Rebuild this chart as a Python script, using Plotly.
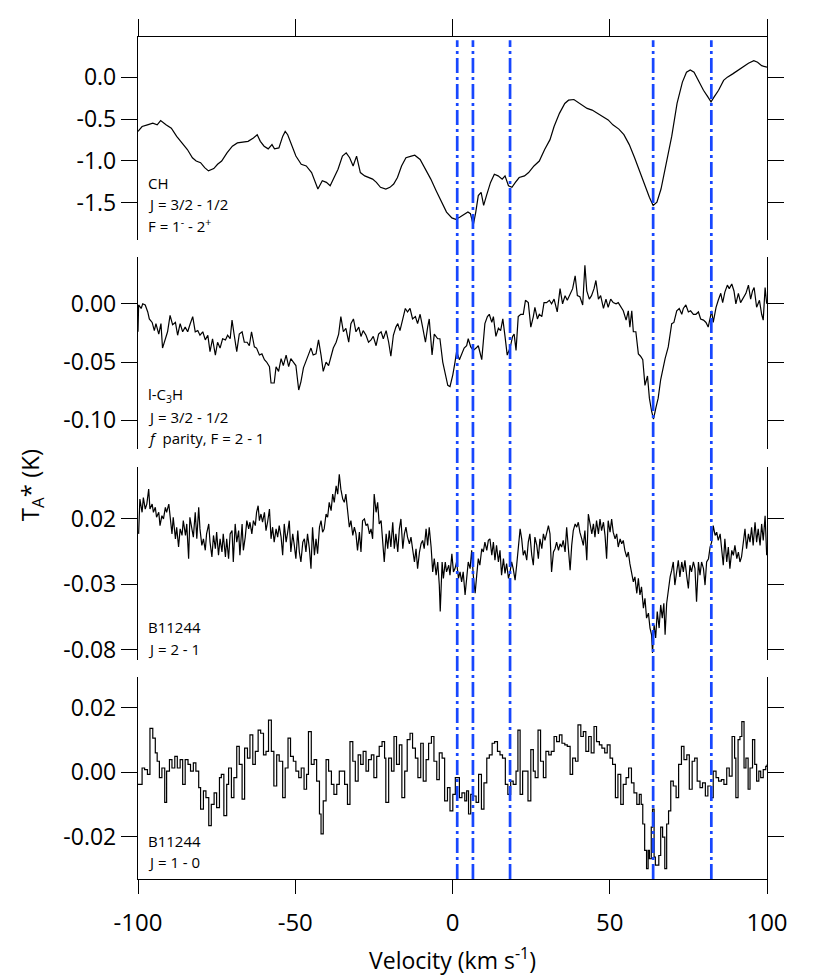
import plotly.graph_objects as go

# ---------------- data (velocity km/s, T_A* K) ----------------
CH = [(-100.0,-0.648),(-98.7,-0.589),(-97.0,-0.569),(-95.3,-0.550),(-93.9,-0.569),(-92.8,-0.518),(-91.1,-0.569),(-89.4,-0.609),(-87.7,-0.707),(-86.0,-0.785),
(-84.3,-0.864),(-82.7,-0.962),(-81.5,-1.001),(-80.1,-1.021),(-78.8,-1.080),(-77.6,-1.119),(-75.9,-1.091),(-74.7,-1.040),(-73.4,-1.001),(-71.7,-0.903),
(-70.0,-0.824),(-68.4,-0.785),(-66.7,-0.777),(-65.0,-0.766),(-63.3,-0.726),(-62.1,-0.687),(-61.1,-0.766),(-59.9,-0.824),(-58.6,-0.856),(-57.4,-0.805),
(-56.6,-0.856),(-55.2,-0.844),(-54.0,-0.707),(-53.2,-0.648),(-52.4,-0.687),(-51.2,-0.805),(-49.8,-0.942),(-48.1,-1.040),(-46.5,-1.060),(-44.8,-1.139),
(-43.4,-1.296),(-42.8,-1.335),(-41.4,-1.237),(-40.1,-1.256),(-38.9,-1.296),(-37.7,-1.198),(-36.4,-1.099),(-35.0,-0.942),(-33.8,-0.903),(-32.7,-0.962),
(-31.6,-1.060),(-30.5,-0.942),(-29.3,-1.139),(-27.9,-1.178),(-26.6,-1.198),(-25.4,-1.217),(-24.2,-1.256),(-22.9,-1.315),(-21.2,-1.335),(-19.9,-1.315),
(-18.7,-1.276),(-17.5,-1.198),(-16.2,-1.060),(-14.8,-0.962),(-13.1,-0.942),(-12.0,-0.931),(-10.3,-0.982),(-8.6,-1.099),(-6.9,-1.217),(-5.2,-1.355),
(-3.5,-1.492),(-1.9,-1.610),(-0.2,-1.680),(1.0,-1.696),(2.4,-1.669),(3.7,-1.641),(4.9,-1.610),(5.7,-1.629),(6.6,-1.767),(7.4,-1.610),
(8.2,-1.413),(9.1,-1.374),(9.9,-1.531),(10.8,-1.413),(12.1,-1.256),(13.3,-1.158),(14.5,-1.178),(15.8,-1.217),(16.7,-1.178),(17.8,-1.296),
(18.9,-1.315),(20.0,-1.256),(21.2,-1.198),(22.9,-1.178),(24.2,-1.139),(25.9,-1.060),(27.6,-1.001),(29.3,-0.864),(31.0,-0.746),(32.3,-0.589),
(34.0,-0.432),(35.7,-0.314),(36.9,-0.275),(38.6,-0.267),(39.7,-0.294),(41.1,-0.334),(42.8,-0.373),(44.4,-0.393),(46.1,-0.432),(47.8,-0.471),
(49.5,-0.510),(51.0,-0.569),(52.9,-0.620),(54.5,-0.687),(56.2,-0.805),(57.9,-0.962),(59.6,-1.139),(61.3,-1.315),(62.6,-1.433),(63.8,-1.531),
(65.0,-1.492),(66.3,-1.335),(68.0,-1.021),(69.7,-0.707),(71.4,-0.314),(73.1,-0.059),(74.4,0.059),(75.6,0.086),(76.8,0.059),(78.1,-0.039),
(79.8,-0.157),(81.2,-0.236),(82.2,-0.294),(83.2,-0.236),(84.6,-0.157),(86.2,-0.039),(87.4,0.000),(89.1,0.039),(90.7,0.079),(92.4,0.126),
(94.1,0.165),(95.8,0.196),(97.0,0.177),(98.3,0.137),(100.0,0.118)]

C3H = [(-100.0,-0.024),(-99.8,-0.001),(-99.0,-0.004),(-98.5,0.000),(-97.7,-0.001),(-96.9,-0.007),(-96.4,-0.013),(-95.5,-0.016),(-94.8,-0.023),(-94.3,-0.017),
(-93.4,-0.026),(-92.7,-0.017),(-92.2,-0.038),(-91.3,-0.030),(-90.6,-0.024),(-89.8,-0.010),(-89.0,-0.018),(-88.1,-0.016),(-87.4,-0.027),(-86.6,-0.017),
(-85.8,-0.024),(-85.0,-0.020),(-84.2,-0.024),(-83.5,-0.018),(-82.6,-0.011),(-81.8,-0.024),(-81.0,-0.023),(-80.3,-0.027),(-79.4,-0.024),(-78.6,-0.031),
(-77.8,-0.027),(-77.1,-0.041),(-76.3,-0.030),(-75.4,-0.044),(-74.7,-0.033),(-73.9,-0.038),(-73.1,-0.030),(-72.2,-0.031),(-71.5,-0.027),(-70.7,-0.030),
(-70.1,-0.014),(-69.4,-0.027),(-68.6,-0.041),(-67.8,-0.026),(-66.9,-0.024),(-66.2,-0.033),(-65.3,-0.033),(-64.6,-0.036),(-63.9,-0.024),(-63.0,-0.037),
(-62.3,-0.038),(-61.4,-0.044),(-60.6,-0.043),(-59.8,-0.048),(-59.1,-0.050),(-58.2,-0.054),(-57.7,-0.068),(-56.7,-0.068),(-56.1,-0.054),(-55.3,-0.058),
(-54.5,-0.047),(-53.8,-0.053),(-52.9,-0.044),(-52.1,-0.054),(-51.4,-0.047),(-50.6,-0.050),(-49.8,-0.053),(-48.9,-0.074),(-48.2,-0.067),(-47.4,-0.055),
(-46.6,-0.050),(-45.7,-0.043),(-45.0,-0.038),(-44.3,-0.044),(-43.4,-0.043),(-42.6,-0.031),(-41.8,-0.044),(-41.1,-0.058),(-40.2,-0.050),(-39.4,-0.053),
(-38.6,-0.045),(-37.9,-0.038),(-37.0,-0.033),(-36.2,-0.026),(-35.5,-0.011),(-34.7,-0.024),(-33.9,-0.021),(-33.0,-0.033),(-32.3,-0.017),(-31.5,-0.013),
(-30.7,-0.024),(-29.8,-0.020),(-29.1,-0.028),(-28.4,-0.023),(-27.5,-0.027),(-26.7,-0.033),(-25.9,-0.031),(-25.2,-0.028),(-24.3,-0.036),(-23.5,-0.026),
(-22.7,-0.024),(-22.0,-0.030),(-21.1,-0.023),(-20.3,-0.033),(-19.6,-0.045),(-18.8,-0.027),(-18.0,-0.020),(-17.4,-0.017),(-16.7,-0.023),(-15.8,-0.014),
(-15.0,-0.004),(-14.3,-0.007),(-13.5,-0.004),(-12.7,-0.013),(-11.8,-0.011),(-11.1,-0.017),(-10.3,-0.009),(-9.5,-0.020),(-8.6,-0.033),(-7.9,-0.020),
(-7.4,-0.013),(-6.5,-0.044),(-5.8,-0.026),(-4.7,-0.030),(-4.0,-0.030),(-3.1,-0.050),(-2.3,-0.061),(-1.5,-0.070),(-0.8,-0.071),(0.1,-0.061),
(0.8,-0.050),(1.3,-0.041),(2.2,-0.048),(2.9,-0.043),(3.7,-0.038),(4.5,-0.036),(5.0,-0.030),(5.8,-0.037),(6.6,-0.040),(7.5,-0.038),
(8.2,-0.036),(9.3,-0.048),(9.8,-0.031),(10.3,-0.017),(11.1,-0.011),(11.7,-0.009),(12.5,-0.016),(13.0,-0.011),(13.8,-0.028),(14.6,-0.021),
(15.3,-0.023),(16.0,-0.013),(16.7,-0.028),(17.4,-0.044),(18.3,-0.038),(19.1,-0.028),(19.6,-0.026),(20.2,-0.040),(20.9,-0.011),(21.7,-0.009),
(22.5,-0.009),(23.2,0.003),(24.1,0.001),(24.9,-0.020),(25.7,-0.011),(26.2,-0.003),(27.0,-0.013),(27.6,-0.009),(28.4,-0.011),(29.1,0.001),
(29.9,0.001),(30.8,0.003),(31.5,0.000),(32.3,0.004),(33.3,-0.007),(34.2,0.013),(35.0,0.000),(35.8,0.007),(36.5,0.003),(37.4,0.009),
(38.2,0.013),(39.0,0.024),(39.7,0.007),(40.5,0.006),(41.4,-0.001),(42.1,0.033),(42.7,0.011),(43.5,0.004),(44.2,0.007),(45.0,0.013),
(45.6,0.020),(46.4,0.004),(47.1,0.007),(48.0,-0.004),(48.8,0.004),(49.5,-0.003),(50.3,0.004),(51.1,0.001),(52.0,0.000),(52.7,0.001),
(53.5,-0.003),(54.3,-0.006),(55.2,-0.014),(55.9,-0.006),(56.4,-0.020),(57.0,-0.006),(57.5,-0.024),(58.3,-0.024),(59.1,-0.043),(59.8,-0.045),
(60.5,-0.048),(61.2,-0.070),(62.0,-0.062),(62.6,-0.081),(63.3,-0.092),(63.9,-0.099),(64.7,-0.089),(65.4,-0.081),(66.2,-0.065),(67.0,-0.054),
(67.6,-0.047),(68.6,-0.037),(69.2,-0.024),(69.7,-0.017),(70.4,-0.016),(71.3,-0.006),(72.1,-0.004),(72.9,-0.009),(73.4,-0.004),(74.2,-0.001),
(75.0,-0.007),(75.7,-0.006),(76.6,-0.009),(77.4,-0.009),(78.2,-0.007),(78.9,-0.013),(79.8,-0.014),(80.6,-0.016),(81.3,-0.020),(81.9,-0.011),
(82.4,-0.006),(82.9,-0.016),(83.8,-0.003),(84.5,0.003),(85.3,0.009),(85.9,0.001),(86.6,0.010),(87.4,0.016),(88.0,0.013),(88.8,0.017),
(89.5,0.011),(90.1,0.000),(90.9,0.009),(91.6,0.001),(92.5,0.006),(93.3,0.009),(94.1,0.016),(94.8,0.004),(95.4,0.011),(95.9,0.014),
(96.7,-0.003),(97.6,0.003),(98.3,-0.009),(98.8,-0.014),(99.4,0.014),(99.9,0.000)]

B11244_J21 = [(-99.8,0.0086),(-99.4,0.0352),(-98.7,0.0251),(-98.3,0.0364),(-97.7,0.0276),(-97.2,0.0314),(-96.6,0.0428),(-96.2,0.0276),(-95.5,0.0314),(-95.1,0.0251),
(-94.5,0.0289),(-94.1,0.0213),(-93.4,0.0251),(-93.0,0.0149),(-92.4,0.0225),(-91.9,0.0200),(-91.3,0.0289),(-90.9,0.0251),(-90.2,0.0314),(-89.8,0.0200),
(-89.2,0.0086),(-88.8,0.0213),(-88.1,0.0048),(-87.7,0.0137),(-87.1,-0.0015),(-86.6,0.0124),(-86.0,0.0074),(-85.6,0.0187),(-84.9,0.0074),(-84.5,0.0162),
(-83.9,-0.0104),(-83.5,0.0213),(-82.8,0.0099),(-82.4,0.0061),(-81.8,0.0251),(-81.3,0.0048),(-80.7,0.0289),(-80.3,0.0124),(-79.7,-0.0002),(-79.2,0.0048),
(-78.6,-0.0040),(-78.2,0.0086),(-77.5,0.0162),(-77.1,0.0023),(-76.5,-0.0091),(-76.0,0.0074),(-75.4,-0.0028),(-75.0,0.0099),(-74.4,-0.0078),(-73.9,0.0048),
(-73.3,-0.0053),(-72.9,0.0086),(-72.2,-0.0091),(-71.8,0.0048),(-71.2,-0.0104),(-70.7,0.0086),(-70.1,0.0111),(-69.7,-0.0129),(-69.1,0.0162),(-68.6,0.0023),
(-68.0,0.0111),(-67.6,-0.0078),(-66.9,0.0162),(-66.5,-0.0040),(-65.9,0.0061),(-65.4,0.0187),(-64.8,0.0124),(-64.4,0.0175),(-63.8,0.0086),(-63.3,0.0187),
(-62.7,0.0149),(-62.3,0.0251),(-61.8,0.0301),(-61.4,0.0187),(-60.9,0.0238),(-60.4,0.0175),(-59.8,0.0251),(-59.3,0.0111),(-58.8,0.0175),(-58.2,0.0276),
(-57.7,0.0048),(-57.2,0.0137),(-56.7,0.0023),(-56.1,0.0124),(-55.6,0.0061),(-55.1,0.0149),(-54.5,0.0061),(-54.0,-0.0078),(-53.5,0.0162),(-52.9,0.0023),
(-52.4,0.0099),(-51.9,0.0187),(-51.4,-0.0053),(-50.8,0.0086),(-50.3,-0.0002),(-49.8,-0.0104),(-49.2,0.0111),(-48.7,-0.0053),(-48.2,-0.0129),(-47.6,0.0023),
(-47.1,0.0048),(-46.6,-0.0053),(-46.1,0.0086),(-45.5,-0.0028),(-45.0,-0.0180),(-44.5,0.0137),(-43.9,-0.0078),(-43.4,0.0048),(-42.9,-0.0066),(-42.3,0.0137),
(-41.8,0.0187),(-41.3,0.0099),(-40.8,0.0124),(-40.2,0.0238),(-39.7,0.0213),(-39.2,0.0327),(-38.6,0.0263),(-38.1,0.0390),(-37.6,0.0327),(-37.0,0.0453),
(-36.5,0.0390),(-36.0,0.0542),(-35.5,0.0428),(-34.9,0.0352),(-34.4,0.0327),(-33.9,0.0390),(-33.3,0.0251),(-32.8,0.0137),(-32.3,0.0187),(-31.7,0.0074),
(-31.2,0.0137),(-30.7,0.0086),(-30.2,-0.0040),(-29.6,0.0099),(-29.1,-0.0053),(-28.6,0.0187),(-28.0,0.0200),(-27.5,0.0149),(-27.0,0.0162),(-26.4,0.0086),
(-25.9,0.0124),(-25.4,0.0048),(-24.9,0.0390),(-24.3,0.0251),(-23.8,0.0327),(-23.3,0.0162),(-22.7,0.0187),(-22.2,0.0023),(-21.7,-0.0129),(-21.1,0.0086),
(-20.6,-0.0028),(-20.1,0.0111),(-19.6,-0.0015),(-19.0,0.0175),(-18.5,-0.0028),(-18.0,0.0086),(-17.4,-0.0053),(-16.9,0.0124),(-16.4,0.0200),(-15.8,-0.0028),
(-15.3,0.0086),(-14.8,0.0137),(-14.3,0.0061),(-13.7,0.0010),(-13.2,0.0061),(-12.7,-0.0028),(-12.1,-0.0129),(-11.6,-0.0028),(-11.1,-0.0180),(-10.5,-0.0053),
(-10.0,0.0010),(-9.5,0.0036),(-9.0,-0.0028),(-8.4,0.0124),(-7.9,-0.0002),(-7.4,0.0137),(-6.8,-0.0015),(-6.3,-0.0205),(-5.8,-0.0104),(-5.2,-0.0230),
(-4.7,-0.0129),(-4.2,-0.0306),(-3.9,-0.0508),(-3.3,-0.0129),(-2.9,-0.0255),(-2.3,-0.0129),(-1.9,-0.0205),(-1.2,-0.0154),(-0.8,-0.0230),(-0.2,-0.0066),
(0.3,-0.0205),(0.8,-0.0180),(1.3,-0.0129),(1.9,-0.0255),(2.4,-0.0205),(2.9,-0.0281),(3.4,-0.0205),(4.0,-0.0382),(4.5,-0.0230),(5.0,-0.0129),
(5.6,-0.0180),(6.1,-0.0040),(6.6,-0.0230),(7.2,-0.0369),(7.7,-0.0230),(8.2,-0.0104),(8.7,-0.0154),(9.3,-0.0028),(9.8,-0.0053),(10.3,0.0023),
(10.9,-0.0040),(11.4,0.0036),(11.9,0.0048),(12.5,-0.0078),(13.0,0.0023),(13.5,-0.0116),(14.0,-0.0002),(14.6,-0.0129),(15.1,-0.0040),(15.6,-0.0230),
(16.2,-0.0104),(16.7,-0.0217),(17.2,-0.0142),(17.8,-0.0255),(18.3,-0.0205),(18.8,-0.0129),(19.3,-0.0180),(19.9,-0.0268),(20.4,-0.0154),(20.9,-0.0015),
(21.5,0.0124),(22.0,0.0048),(22.5,-0.0078),(23.0,-0.0040),(23.6,-0.0116),(24.1,0.0023),(24.6,0.0086),(25.2,-0.0078),(25.7,-0.0154),(26.2,0.0061),
(26.8,-0.0002),(27.3,-0.0104),(27.8,0.0048),(28.4,-0.0028),(28.9,0.0086),(29.4,0.0036),(29.9,0.0086),(30.5,0.0149),(31.0,0.0086),(31.5,-0.0205),
(32.1,-0.0053),(32.6,-0.0028),(33.1,0.0023),(33.7,-0.0040),(34.2,0.0010),(34.7,-0.0015),(35.2,0.0036),(35.8,-0.0053),(36.3,0.0137),(36.8,0.0010),
(37.4,-0.0192),(37.9,-0.0002),(38.4,0.0111),(39.0,0.0162),(39.5,0.0137),(40.0,0.0175),(40.5,0.0099),(41.1,0.0048),(41.6,-0.0002),(42.1,0.0111),
(42.7,-0.0116),(43.2,0.0238),(43.7,0.0175),(44.3,0.0086),(44.8,0.0162),(45.3,0.0061),(45.8,0.0187),(46.4,0.0086),(46.9,0.0200),(47.4,0.0111),
(48.0,0.0175),(48.5,0.0074),(49.0,-0.0104),(49.5,0.0187),(50.1,0.0099),(50.6,0.0200),(51.1,0.0099),(51.7,0.0048),(52.2,0.0086),(52.7,-0.0015),
(53.3,0.0048),(53.8,0.0010),(54.3,0.0036),(54.8,-0.0040),(55.4,-0.0091),(55.9,-0.0053),(56.4,-0.0142),(57.0,-0.0205),(57.5,-0.0281),(58.0,-0.0243),
(58.6,-0.0369),(59.1,-0.0255),(59.6,-0.0382),(60.1,-0.0319),(60.7,-0.0483),(61.2,-0.0407),(61.7,-0.0559),(62.3,-0.0521),(62.8,-0.0635),(63.3,-0.0686),
(63.6,-0.0825),(64.1,-0.0610),(64.6,-0.0711),(65.1,-0.0508),(65.7,-0.0635),(66.2,-0.0458),(66.7,-0.0559),(67.2,-0.0445),(67.6,-0.0686),(68.1,-0.0445),
(68.6,-0.0331),(69.2,-0.0243),(69.7,-0.0192),(70.2,-0.0129),(70.7,-0.0306),(71.3,-0.0205),(71.8,-0.0116),(72.3,-0.0243),(72.9,-0.0129),(73.4,-0.0205),
(73.9,-0.0116),(74.5,-0.0243),(75.0,-0.0331),(75.5,-0.0154),(76.0,-0.0205),(76.6,-0.0129),(77.1,-0.0180),(77.6,-0.0433),(78.2,-0.0129),(78.7,-0.0230),
(79.2,-0.0129),(79.8,-0.0180),(80.3,-0.0306),(80.8,-0.0129),(81.4,-0.0104),(81.9,-0.0015),(82.4,0.0023),(82.9,0.0149),(83.5,0.0074),(84.0,0.0099),
(84.5,0.0036),(85.1,0.0086),(85.6,-0.0028),(86.1,-0.0154),(86.6,0.0048),(87.2,-0.0129),(87.7,-0.0015),(88.2,-0.0180),(88.8,-0.0040),(89.3,-0.0078),
(89.8,-0.0002),(90.4,-0.0104),(90.9,-0.0053),(91.4,-0.0129),(91.9,-0.0091),(92.5,0.0023),(93.0,0.0124),(93.5,-0.0028),(94.1,0.0086),(94.6,0.0023),
(95.1,0.0137),(95.6,-0.0002),(96.2,0.0175),(96.7,0.0023),(97.2,0.0124),(97.8,-0.0002),(98.3,0.0162),(98.8,0.0036),(99.4,0.0225),(99.9,-0.0078)]

B11244_J10 = [(-100.0,-0.0038),(-99.6,-0.0038),(-98.7,0.0013),(-97.9,0.0008),(-97.0,-0.0007),(-96.2,0.0136),(-95.3,0.0106),(-94.5,0.0060),(-93.9,0.0034),(-93.2,-0.0017),
(-92.4,0.0013),(-91.5,-0.0094),(-90.9,0.0003),(-90.0,0.0039),(-89.2,0.0013),(-88.3,0.0049),(-87.5,0.0013),(-86.6,0.0039),(-85.8,-0.0038),(-85.0,0.0039),
(-84.1,0.0024),(-83.3,0.0003),(-82.4,0.0029),(-81.6,0.0003),(-80.7,-0.0048),(-80.1,-0.0115),(-79.2,-0.0058),(-78.4,-0.0079),(-77.5,-0.0166),(-76.7,-0.0100),
(-75.8,-0.0064),(-75.0,-0.0110),(-74.1,-0.0017),(-73.5,-0.0007),(-72.7,-0.0135),(-71.8,-0.0038),(-71.2,0.0013),(-70.3,-0.0079),(-69.5,-0.0017),(-68.6,0.0080),
(-67.8,0.0024),(-66.9,-0.0084),(-66.1,0.0075),(-65.2,0.0044),(-64.4,0.0116),(-63.5,0.0024),(-62.7,0.0065),(-61.8,0.0131),(-61.0,0.0121),(-60.1,0.0054),
(-59.3,0.0065),(-58.5,0.0162),(-57.6,0.0065),(-56.8,-0.0043),(-55.9,0.0054),(-55.1,0.0034),(-54.0,-0.0079),(-53.2,0.0013),(-52.3,0.0106),(-51.5,0.0049),
(-50.6,0.0034),(-49.8,0.0003),(-48.9,-0.0017),(-48.1,0.0013),(-47.2,-0.0053),(-46.4,-0.0007),(-45.8,0.0126),(-44.9,0.0024),(-44.0,0.0039),(-43.2,-0.0028),
(-42.3,-0.0130),(-41.8,-0.0192),(-41.1,-0.0089),(-40.2,0.0039),(-39.4,0.0003),(-38.5,-0.0038),(-37.7,-0.0069),(-36.8,-0.0038),(-36.0,0.0003),(-35.1,0.0003),
(-34.3,-0.0038),(-33.4,-0.0100),(-32.6,0.0095),(-31.7,0.0034),(-30.9,-0.0028),(-30.0,0.0054),(-29.2,0.0024),(-28.4,0.0065),(-27.5,0.0003),(-26.7,0.0039),
(-25.8,0.0054),(-25.0,-0.0017),(-24.1,0.0049),(-23.3,0.0080),(-22.4,0.0095),(-21.6,0.0044),(-21.2,-0.0094),(-20.3,0.0044),(-19.4,0.0003),(-18.6,0.0111),
(-17.8,0.0024),(-16.9,0.0085),(-16.1,-0.0079),(-15.2,0.0003),(-14.4,0.0101),(-13.5,0.0121),(-12.7,0.0075),(-11.8,0.0044),(-11.0,-0.0017),(-10.1,0.0090),
(-9.3,-0.0028),(-8.4,0.0039),(-7.6,0.0090),(-6.7,0.0111),(-5.9,0.0034),(-5.0,-0.0023),(-4.2,0.0060),(-3.3,0.0044),(-2.5,-0.0089),(-1.6,-0.0048),
(-0.8,-0.0120),(0.1,-0.0069),(0.9,-0.0017),(1.3,-0.0017),(2.2,-0.0079),(3.0,-0.0064),(3.9,-0.0089),(4.5,-0.0058),(5.1,-0.0130),(5.8,-0.0069),
(6.6,-0.0074),(7.5,-0.0094),(8.3,-0.0007),(9.2,-0.0115),(10.0,-0.0033),(10.9,0.0044),(11.7,0.0054),(12.6,0.0090),(13.4,0.0095),(14.3,0.0065),
(15.1,0.0054),(15.9,0.0044),(16.8,-0.0038),(17.6,-0.0069),(18.5,-0.0028),(19.3,-0.0038),(20.2,0.0003),(20.8,0.0131),(21.5,-0.0069),(22.3,0.0003),
(23.2,0.0003),(24.0,-0.0089),(24.9,0.0070),(25.7,0.0003),(26.3,-0.0017),(27.2,0.0131),(28.0,0.0034),(28.9,-0.0017),(29.7,0.0065),(30.6,0.0054),
(31.4,0.0065),(32.3,0.0111),(33.1,0.0095),(34.0,0.0116),(34.8,0.0090),(35.7,0.0085),(36.5,0.0080),(37.4,-0.0007),(38.2,0.0044),(39.1,0.0034),
(39.9,0.0147),(40.8,0.0111),(41.6,0.0126),(42.4,0.0065),(43.3,0.0111),(44.1,0.0060),(45.0,0.0142),(45.8,0.0095),(46.7,0.0085),(47.5,0.0075),
(48.4,0.0060),(49.2,0.0085),(50.1,0.0044),(50.9,0.0024),(51.8,-0.0079),(52.6,-0.0007),(53.5,-0.0100),(54.3,-0.0038),(55.2,-0.0017),(56.0,0.0013),
(56.9,-0.0033),(57.7,-0.0064),(58.6,-0.0100),(59.4,-0.0069),(60.0,-0.0100),(60.5,-0.0161),(61.1,-0.0243),(61.7,-0.0300),(62.2,-0.0243),(62.6,-0.0269),
(63.2,-0.0171),(63.6,-0.0115),(64.1,-0.0264),(64.5,-0.0289),(64.9,-0.0289),(65.6,-0.0259),(66.2,-0.0171),(66.8,-0.0202),(67.5,-0.0300),(68.1,-0.0161),
(68.7,-0.0120),(69.4,-0.0028),(70.2,-0.0043),(71.1,-0.0079),(71.9,0.0024),(72.8,0.0080),(73.6,0.0039),(74.5,0.0054),(75.3,-0.0053),(76.2,0.0034),
(77.0,0.0044),(77.8,-0.0028),(78.7,-0.0048),(79.5,-0.0033),(80.4,-0.0074),(81.2,-0.0043),(82.1,-0.0079),(82.9,0.0003),(83.8,-0.0017),(84.6,-0.0028),
(85.5,-0.0023),(86.3,-0.0038),(87.2,0.0013),(88.0,-0.0012),(88.9,0.0111),(89.7,0.0044),(90.1,-0.0079),(90.8,0.0101),(91.4,0.0111),(92.0,0.0157),
(92.7,0.0013),(93.3,0.0044),(94.0,-0.0053),(94.6,0.0013),(95.4,0.0101),(96.1,0.0024),(96.7,-0.0028),(97.4,0.0003),(98.0,-0.0017),(98.8,0.0008),
(99.6,0.0018),(100.0,0.0024)]

LINE_VELOCITIES = [1.5, 6.5, 18.3, 63.8, 82.3]

X_TICKS = [-100, -50, 0, 50, 100]
X_TICK_TEXT = ["-100", "-50", "0", "50", "100"]

CH_TICKS = [0.0, -0.5, -1.0, -1.5]
CH_TICK_TEXT = ["0.0", "-0.5", "-1.0", "-1.5"]
C3H_TICKS = [0.0, -0.05, -0.10]
C3H_TICK_TEXT = ["0.00", "-0.05", "-0.10"]
J21_TICKS = [0.02, -0.03, -0.08]
J21_TICK_TEXT = ["0.02", "-0.03", "-0.08"]
J10_TICKS = [0.02, 0.0, -0.02]
J10_TICK_TEXT = ["0.02", "0.00", "-0.02"]

LABELS = [
    ["CH", "J = 3/2 - 1/2", "F = 1<sup>-</sup> - 2<sup>+</sup>"],
    ["l-C<sub>3</sub>H", "J = 3/2 - 1/2", "<i>f</i>  parity, F = 2 - 1"],
    ["B11244", "J = 2 - 1"],
    ["B11244", "J = 1 - 0"],
]

# ---------------- layout helpers ----------------
# the page body has an 8 px margin, so the figure is drawn from (8, 8)
OFF = 8
WIN_W, WIN_H = 830, 977
W, H = WIN_W - OFF, WIN_H - OFF
PL, PR, PT, PB = 138, 767, 26, 879          # plot area in window pixels
ML, MR, MT, MB = PL - OFF, W + OFF - PR, PT - OFF, H + OFF - PB
PH = PB - PT

def py(p):
    return (PB - p) / PH

def px(p):
    return (p - PL) / (PR - PL)

FONT = "Open Sans, DejaVu Sans, sans-serif"

panels = [
    dict(data=CH, dom=[py(231.7), 1.0], rng=[-1.944, 0.479], tv=CH_TICKS, tt=CH_TICK_TEXT, shape="linear",
         label_y=[174, 195, 217]),
    dict(data=C3H, dom=[py(443), py(249.3)], rng=[-0.1243, 0.0398], tv=C3H_TICKS, tt=C3H_TICK_TEXT, shape="linear",
         label_y=[389, 411, 432]),
    dict(data=B11244_J21, dom=[py(656.7), py(461.7)], rng=[-0.0876, 0.0597], tv=J21_TICKS, tt=J21_TICK_TEXT, shape="linear",
         label_y=[624, 646]),
    dict(data=B11244_J10, dom=[0.0, py(674)], rng=[-0.0332, 0.0297], tv=J10_TICKS, tt=J10_TICK_TEXT, shape="hv",
         label_y=[840, 862]),
]

fig = go.Figure()
annotations = []
for i, p in enumerate(panels, start=1):
    sfx = "" if i == 1 else str(i)
    v = [d[0] for d in p["data"]]
    t = [d[1] for d in p["data"]]
    fig.add_trace(go.Scatter(x=v, y=t, mode="lines", xaxis="x" + sfx, yaxis="y" + sfx,
                             line=dict(color="black", width=1.2, shape=p["shape"]),
                             showlegend=False, hoverinfo="skip"))
    xa = dict(domain=[0, 1], range=[-100, 100], anchor="y" + sfx, showgrid=False, zeroline=False)
    if i == 1:
        xa.update(side="top", showline=True, linecolor="black", linewidth=1.3, ticks="outside",
                  ticklen=17, tickwidth=1.3, tickcolor="black", tickvals=X_TICKS, showticklabels=False)
    elif i == 4:
        xa.update(showline=True, linecolor="black", linewidth=1.3, ticks="outside", ticklen=14,
                  tickwidth=1.3, tickcolor="black", tickvals=X_TICKS, ticktext=X_TICK_TEXT,
                  tickfont=dict(family=FONT, size=24, color="black"), ticklabelstandoff=8)
    else:
        xa.update(showline=False, ticks="", showticklabels=False)
    ya = dict(domain=p["dom"], range=p["rng"], anchor="x" + sfx, showgrid=False, zeroline=False,
              showline=True, mirror="ticks", linecolor="black", linewidth=1.3, ticks="outside",
              ticklen=16, tickwidth=1.3, tickcolor="black", tickvals=p["tv"], ticktext=p["tt"],
              tickfont=dict(family=FONT, size=23, color="black"))
    fig.layout["xaxis" + sfx] = xa
    fig.layout["yaxis" + sfx] = ya
    for txt, yy in zip(LABELS[i - 1], p["label_y"]):
        annotations.append(dict(text=txt, x=px(146), y=py(yy), xref="paper", yref="paper",
                                xanchor="left", yanchor="middle", showarrow=False,
                                font=dict(family=FONT, size=15, color="black")))

annotations.append(dict(text="T<sub>A</sub>* (K)", x=px(31), y=py(480), xref="paper", yref="paper",
                        textangle=-90, xanchor="center", yanchor="middle", showarrow=False,
                        font=dict(family=FONT, size=24, color="black")))
annotations.append(dict(text="Velocity (km s<sup>-1</sup>)", x=px(452), y=py(960), xref="paper", yref="paper",
                        xanchor="center", yanchor="middle", showarrow=False,
                        font=dict(family=FONT, size=23, color="black")))

shapes = []
for lv in LINE_VELOCITIES:
    shapes.append(dict(type="line", xref="x4", yref="paper", x0=lv, x1=lv, y0=0, y1=py(29.3),
                       line=dict(color="#1747FF", width=2.7, dash="15px,4px,3px,4px"), layer="above"))

fig.update_layout(width=W, height=H, margin=dict(l=ML, r=MR, t=MT, b=MB),
                  paper_bgcolor="white", plot_bgcolor="white", showlegend=False,
                  annotations=annotations, shapes=shapes,
                  font=dict(family=FONT, color="black"))

fig.write_html("out.html")
